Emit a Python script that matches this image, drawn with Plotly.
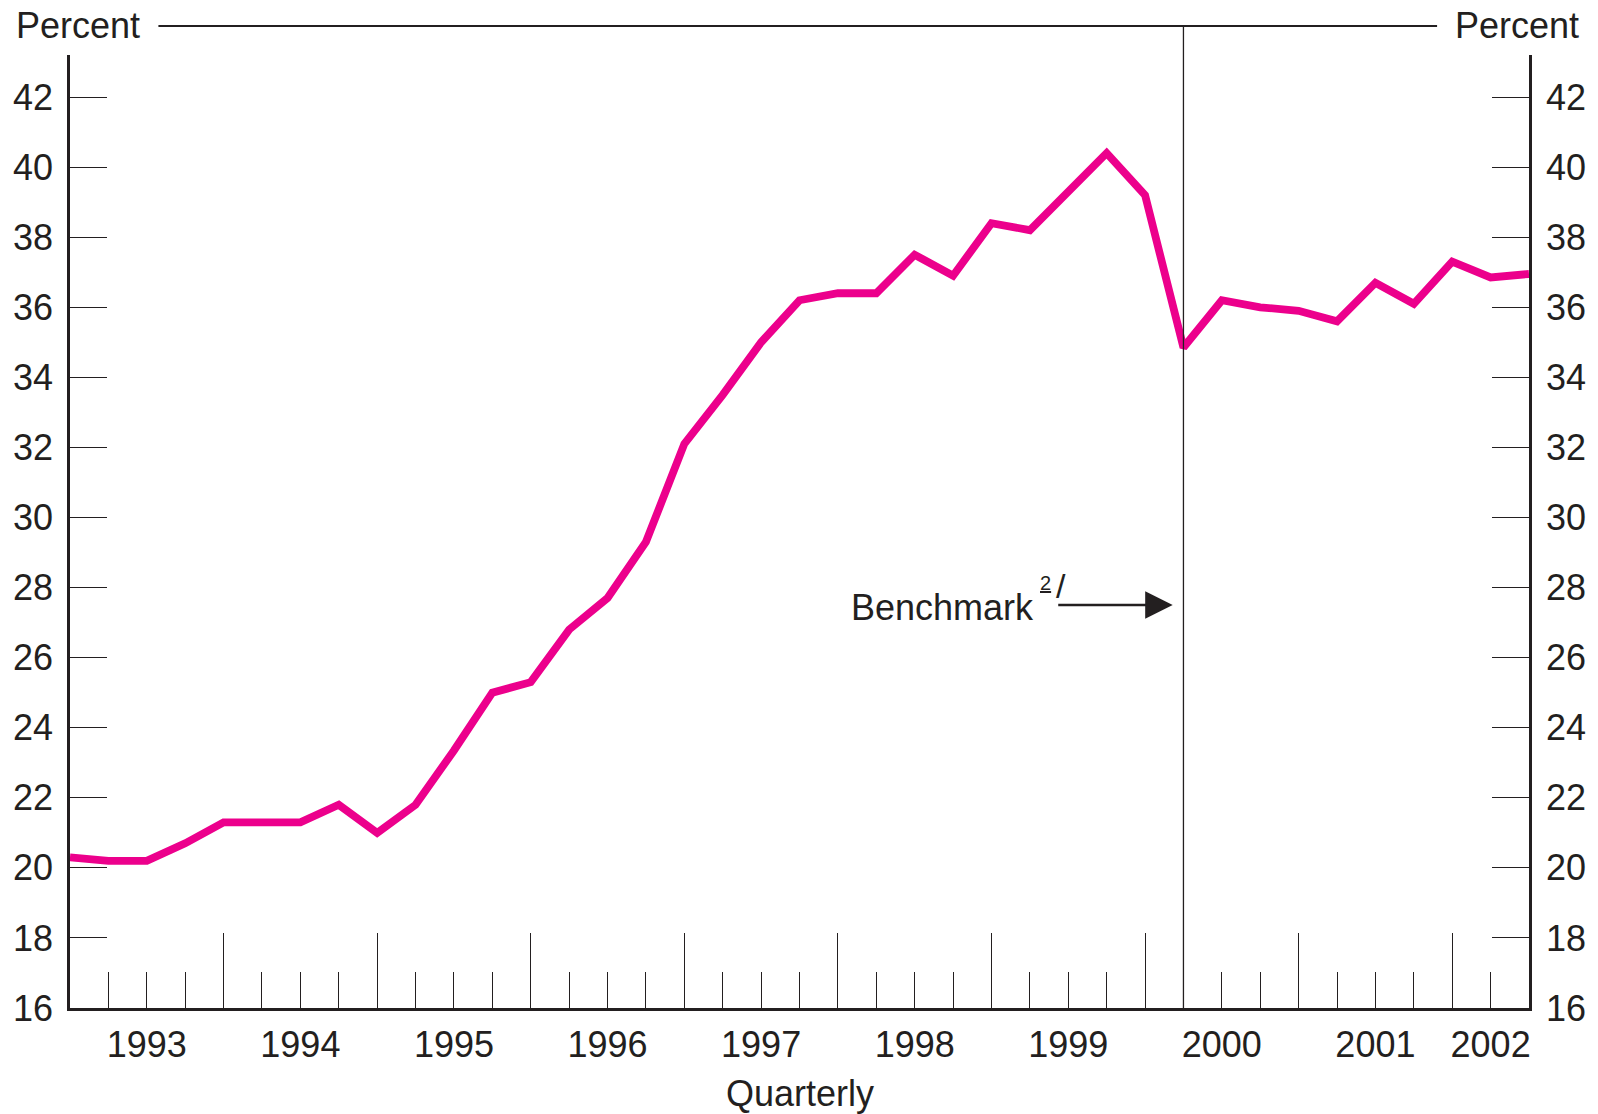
import plotly.graph_objects as go

# ---- data (quarterly, index 0 = first quarter shown) ----
quarter_index = list(range(39))
percent_values = [20.3, 20.2, 20.2, 20.7, 21.3, 21.3, 21.3, 21.8, 21.0, 21.8,
                  23.35, 25.0, 25.3, 26.8, 27.7, 29.3, 32.1, 33.5, 35.0, 36.2,
                  36.4, 36.4, 37.5, 36.9, 38.4, 38.2, 39.3, 40.4, 39.2, 34.85,
                  36.2, 36.0, 35.9, 35.6, 36.7, 36.1, 37.3, 36.85, 36.95]
year_labels = ["1993", "1994", "1995", "1996", "1997", "1998", "1999", "2000", "2001", "2002"]
year_label_pos = [2, 6, 10, 14, 18, 22, 26, 30, 34, 37]
major_ticks = [4, 8, 12, 16, 20, 24, 28, 32, 36]
minor_ticks = [i for i in range(1, 38) if i % 4 != 0]
y_ticks = list(range(16, 43, 2))
benchmark_index = 29

X_RANGE = [0, 38]
Y_RANGE = [16, 43.2]

INK = "#231f20"
PINK = "#EC008C"
FONT = "Liberation Sans, Arial, Helvetica, sans-serif"
FS = 36

fig = go.Figure()
fig.add_trace(go.Scatter(
    x=quarter_index, y=percent_values, mode="lines",
    line=dict(color=PINK, width=7.8), hoverinfo="skip", showlegend=False,
))
# invisible trace for the secondary axes
fig.add_trace(go.Scatter(x=[None], y=[None], xaxis="x2", yaxis="y2",
                         showlegend=False, hoverinfo="skip"))

axis_common = dict(showgrid=False, zeroline=False, linecolor=INK, tickcolor=INK)

fig.update_layout(
    width=1598, height=1114,
    margin=dict(l=70, r=69, t=55, b=106),
    paper_bgcolor="white", plot_bgcolor="white",
    font=dict(family=FONT, size=FS, color=INK),
    xaxis=dict(range=X_RANGE, tickmode="array", tickvals=major_ticks,
               ticks="inside", ticklen=75, tickwidth=1.3,
               showticklabels=False, showline=True, linewidth=2.7,
               minor=dict(tickmode="array", tickvals=minor_ticks, ticks="inside",
                          ticklen=36, tickwidth=1.3, tickcolor=INK),
               **axis_common),
    xaxis2=dict(range=X_RANGE, overlaying="x", side="bottom", anchor="y",
                tickmode="array", tickvals=year_label_pos, ticktext=year_labels,
                ticks="", showline=False, ticklabelstandoff=12,
                tickfont=dict(size=FS, color=INK), **axis_common),
    yaxis=dict(range=Y_RANGE, tickmode="array", tickvals=y_ticks,
               ticks="inside", ticklen=37, tickwidth=1.3,
               showline=True, linewidth=2.7, ticklabelstandoff=7,
               tickfont=dict(size=FS, color=INK), **axis_common),
    yaxis2=dict(range=Y_RANGE, overlaying="y", side="right", anchor="x",
                tickmode="array", tickvals=y_ticks,
                ticks="inside", ticklen=37, tickwidth=1.3,
                showline=True, linewidth=2.7, ticklabelstandoff=7,
                tickfont=dict(size=FS, color=INK), **axis_common),
)

# paper-x of the benchmark quarter
bx = (benchmark_index - X_RANGE[0]) / (X_RANGE[1] - X_RANGE[0])
top_y = 1.0305

shapes = [
    # top rule between the two "Percent" labels
    dict(type="line", xref="paper", yref="paper", x0=0.0606, x1=0.937,
         y0=top_y, y1=top_y, line=dict(color=INK, width=2)),
    # benchmark vertical rule
    dict(type="line", xref="paper", yref="paper", x0=bx, x1=bx,
         y0=0, y1=top_y, line=dict(color=INK, width=1.3), layer="above"),
]
fig.update_layout(shapes=shapes)

annotations = [
    dict(text="Percent", xref="paper", yref="paper", x=-0.0387, y=top_y,
         xanchor="left", yanchor="middle", showarrow=False,
         font=dict(size=FS, color=INK)),
    dict(text="Percent", xref="paper", yref="paper", x=1.0354, y=top_y,
         xanchor="right", yanchor="middle", showarrow=False,
         font=dict(size=FS, color=INK)),
    dict(text="Quarterly", xref="paper", yref="paper", x=0.5, y=-0.0896,
         xanchor="center", yanchor="middle", showarrow=False,
         font=dict(size=FS, color=INK)),
    dict(text="Benchmark", xref="x", yref="y", x=22.72, y=27.42,
         xanchor="center", yanchor="middle", showarrow=False,
         font=dict(size=FS, color=INK)),
    dict(text="<u>2</u>", xref="x", yref="y", x=25.2, y=28.14,
         xanchor="left", yanchor="middle", showarrow=False,
         font=dict(size=20, color=INK)),
    dict(text="/", xref="x", yref="y", x=25.8, y=28.05,
         xanchor="center", yanchor="middle", showarrow=False,
         font=dict(size=34, color=INK)),
    dict(text="", xref="x", yref="y", x=28.72, y=27.5,
         axref="x", ayref="y", ax=25.7, ay=27.5,
         showarrow=True, arrowhead=2, arrowsize=2.2, arrowwidth=2.5,
         arrowcolor=INK, standoff=0),
]
fig.update_layout(annotations=annotations)

fig.write_html("out.html", config={"displayModeBar": False},
               post_script="document.body.style.margin='0px';")
